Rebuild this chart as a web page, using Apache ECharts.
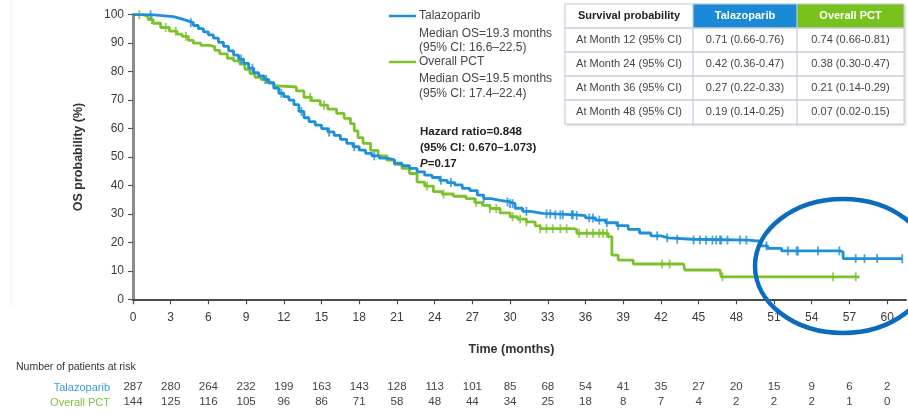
<!DOCTYPE html>
<html><head><meta charset="utf-8">
<script src="https://cdn.jsdelivr.net/npm/echarts@6/dist/echarts.min.js"></script>
<style>html,body{margin:0;padding:0;background:#fff}#c{width:908px;height:414px}</style>
</head><body><div id="c"></div>
<script>
// ---------- DATA ----------
const tickMonths = [0,3,6,9,12,15,18,21,24,27,30,33,36,39,42,45,48,51,54,57,60];
const talaRisk = [287,280,264,232,199,163,143,128,113,101,85,68,54,41,35,27,20,15,9,6,2];
const pctRisk  = [144,125,116,105,96,86,71,58,48,44,34,25,18,8,7,4,2,2,2,1,0];

// Kaplan-Meier step points [month, OS %]
const talaSteps = [[0,100],[1.0,100],[1.5,99.6],[2.5,99.3],[3.2,98.6],[3.8,97.9],[4.3,97.2],[4.8,96.2],[5.2,95.1],[5.6,94],[6.0,92.9],[6.4,91.8],[6.8,90.3],[7.2,88.9],[7.6,87.3],[8.0,85.8],[8.4,84.4],[8.8,82.9],[9.2,81.2],[9.6,79.6],[10.0,78.5],[10.4,77.3],[10.8,76.0],[11.2,74.2],[11.6,72.4],[12.0,71.2],[12.4,70.0],[12.8,68.4],[13.2,66.0],[13.6,63.8],[14.0,62.4],[14.5,61.2],[15.0,60.0],[15.5,58.8],[16.0,57.6],[16.5,56.2],[17.0,54.8],[17.5,53.6],[18.0,52.4],[18.5,51.3],[19.0,50.4],[19.6,49.6],[20.2,49.0],[20.8,47.8],[21.4,47.0],[22.0,46.0],[22.6,44.8],[23.2,43.6],[23.8,42.8],[24.4,41.8],[25.0,41.0],[25.6,40.2],[26.2,39.0],[26.8,38.2],[27.4,36.6],[27.9,35.4],[28.5,34.8],[29.2,34.2],[30.0,33.6],[30.4,32.0],[31.0,30.9],[31.6,30.2],[32.6,30.0],[33.6,29.7],[35.2,29.4],[36.0,28.6],[36.8,27.8],[37.6,26.9],[38.5,25.9],[39.4,24.6],[40.3,23.3],[41.2,22.3],[42.0,21.6],[42.6,21.1],[44.5,20.8],[49.0,20.4],[49.9,18.8],[50.5,17.9],[51.6,17.0],[56.3,16.6],[56.5,14.3],[61.2,14.3]];
const pctSteps = [[0,100],[0.8,99.4],[1.2,98.3],[1.6,97.0],[2.2,95.5],[2.9,94.2],[3.5,93.2],[3.9,92.4],[4.4,91.0],[4.8,90.0],[5.4,89.2],[6.1,88.8],[6.5,87.5],[6.9,86.2],[7.5,84.7],[8.0,83.8],[8.5,82.6],[8.9,80.8],[9.3,79.3],[9.7,78.0],[10.2,77.2],[10.7,76.2],[11.2,75.0],[11.5,74.6],[13.0,73.2],[13.6,71.0],[14.2,69.8],[14.9,68.2],[15.5,66.8],[16.2,65.3],[16.8,63.6],[17.3,61.7],[17.6,59.2],[17.9,56.8],[18.3,54.8],[18.9,52.3],[19.5,50.4],[20.2,48.9],[20.8,47.4],[21.4,46.0],[22.0,44.2],[22.6,41.2],[23.2,39.8],[23.9,37.8],[24.6,37.0],[25.5,36.2],[26.5,35.4],[27.2,34.0],[27.8,33.0],[28.4,31.9],[29.2,30.4],[30.0,29.0],[30.6,28.2],[31.3,27.2],[32.0,25.8],[32.4,24.8],[35.1,24.5],[35.3,23.2],[37.8,22.0],[38.1,15.5],[38.6,13.8],[39.8,12.4],[43.8,12.4],[43.9,10.3],[46.7,10.3],[46.8,7.9],[57.8,7.9]];

// censoring times (months)
const talaCensor = [1.4,4.6,8.6,9.5,10.6,11.8,13.4,15.6,17.6,19.2,24.5,25.3,27.9,29.8,30.0,30.2,31.3,32.9,33.2,33.6,34.0,34.2,34.9,35.0,35.3,36.3,36.6,37.1,37.7,38.6,41.7,42.5,43.3,44.6,45.1,45.6,46.1,46.4,46.7,46.8,47.3,48.3,48.8,50.4,52.1,52.8,52.9,54.5,56.2,57.5,58.2,59.2,61.2];
const pctCensor = [0.5,1.5,2.6,3.4,4.2,10.5,14.1,15.2,23.4,24.7,27.3,28.4,28.9,30.2,30.8,31.3,32.4,32.9,33.4,34.0,34.5,35.5,36.1,36.6,37.1,37.4,37.7,42.1,42.7,46.9,55.7,57.5];

// ---------- CHART ----------
const BLUE = '#1f8fda', GREEN = '#7cc22a';
function valueAt(steps, t){ let v = steps[0][1]; for (const s of steps){ if (s[0] <= t) v = s[1]; else break; } return v; }
const FONT = '"Liberation Sans", Arial, sans-serif';

const chart = echarts.init(document.getElementById('c'), null, {renderer:'canvas'});

function riskAxis(vals, offset){
  return {type:'value', min:0, max:61.5, position:'bottom', offset:offset,
    axisLine:{show:false}, axisTick:{show:false}, splitLine:{show:false},
    axisLabel:{customValues:tickMonths, margin:0, fontSize:11.5, color:'#444', fontFamily:FONT,
      formatter:v=>{const i=tickMonths.indexOf(v); return i>=0? String(vals[i]) : '';}}};
}

const tx = (x,y,text,opt={}) => ({type:'text', x, y, style:Object.assign({text, font:'12px '+FONT, fill:'#474747', textVerticalAlign:'middle'}, opt)});

// table geometry
const tcols = [565, 693, 797, 904];
const trows = [4, 28, 52, 76, 100, 124];
const tbl = [
  ['Survival probability','Talazoparib','Overall PCT'],
  ['At Month 12 (95% CI)','0.71 (0.66-0.76)','0.74 (0.66-0.81)'],
  ['At Month 24 (95% CI)','0.42 (0.36-0.47)','0.38 (0.30-0.47)'],
  ['At Month 36 (95% CI)','0.27 (0.22-0.33)','0.21 (0.14-0.29)'],
  ['At Month 48 (95% CI)','0.19 (0.14-0.25)','0.07 (0.02-0.15)']
];
const tableEls = [];
tableEls.push({type:'rect', shape:{x:tcols[0],y:trows[0],width:tcols[3]-tcols[0],height:trows[5]-trows[0]}, style:{fill:'#fff', shadowBlur:3, shadowColor:'rgba(0,0,0,0.25)', shadowOffsetX:1, shadowOffsetY:1}});
tableEls.push({type:'rect', shape:{x:tcols[1],y:trows[0],width:tcols[2]-tcols[1],height:trows[1]-trows[0]}, style:{fill:'#1b8ad6'}});
tableEls.push({type:'rect', shape:{x:tcols[2],y:trows[0],width:tcols[3]-tcols[2],height:trows[1]-trows[0]}, style:{fill:'#77c21c'}});
for (let r=0;r<tbl.length;r++){
  for (let c=0;c<3;c++){
    const cx=(tcols[c]+tcols[c+1])/2, cy=(trows[r]+trows[r+1])/2;
    const head = r===0;
    tableEls.push({type:'text', x:cx, y:cy, style:{text:tbl[r][c], textAlign:'center', textVerticalAlign:'middle',
      font:(head?'bold ':'')+'11px '+FONT, fill: head ? (c===0?'#222':'#fff') : '#444'}});
  }
}
for (let i=1;i<trows.length-1;i++) tableEls.push({type:'line', shape:{x1:tcols[0],y1:trows[i],x2:tcols[3],y2:trows[i]}, style:{stroke:'#c5ccd9', lineWidth:1.5}});
for (let i=1;i<tcols.length-1;i++) tableEls.push({type:'line', shape:{x1:tcols[i],y1:trows[0],x2:tcols[i],y2:trows[5]}, style:{stroke:'#c5ccd9', lineWidth:1.2}});
tableEls.push({type:'rect', shape:{x:tcols[0],y:trows[0],width:tcols[3]-tcols[0],height:trows[5]-trows[0]}, style:{fill:'none', stroke:'#c5ccd9', lineWidth:1}});

const option = {
  backgroundColor:'#fff',
  animation:false,
  grid:{left:133, right:2, top:14.7, bottom:114.7, containLabel:false},
  xAxis:[{type:'value', min:0, max:61.5, name:'Time (months)', nameLocation:'middle', nameGap:44,
    nameTextStyle:{fontSize:12.5, fontWeight:'bold', color:'#333', fontFamily:FONT, padding:[0,16,0,0]},
    axisLine:{lineStyle:{color:'#4a4a4a', width:2}},
    axisTick:{customValues:tickMonths, length:5, lineStyle:{color:'#4a4a4a', width:1.2}},
    axisLabel:{customValues:tickMonths, margin:12, fontSize:12, color:'#3a3a3a', fontFamily:FONT},
    splitLine:{show:false}},
    riskAxis(talaRisk, 82), riskAxis(pctRisk, 97)],
  yAxis:{type:'value', min:0, max:100, interval:10, name:'OS probability (%)', nameLocation:'middle', nameGap:48,
    nameTextStyle:{fontSize:12.5, fontWeight:'bold', color:'#333', fontFamily:FONT},
    axisLine:{show:true, lineStyle:{color:'#8c8c8c', width:3}},
    axisTick:{show:true, length:5, lineStyle:{color:'#555', width:1.2}},
    axisLabel:{margin:9, fontSize:12, color:'#3a3a3a', fontFamily:FONT},
    splitLine:{show:false}},
  series:[
    {type:'line', step:'end', data:pctSteps, showSymbol:false, lineStyle:{color:GREEN, width:2.8}, z:3},
    {type:'line', step:'end', data:talaSteps, showSymbol:false, lineStyle:{color:BLUE, width:2.8}, z:4},
    {type:'scatter', data:pctCensor.map(t=>[t, valueAt(pctSteps,t)]), symbol:'rect', symbolSize:[1.8,9], itemStyle:{color:GREEN}, z:3},
    {type:'scatter', data:talaCensor.map(t=>[t, valueAt(talaSteps,t)]), symbol:'rect', symbolSize:[1.8,9], itemStyle:{color:BLUE}, z:4}
  ],
  graphic:[
    {type:'line', shape:{x1:11,y1:0,x2:11,y2:306}, style:{stroke:'#eeeeee', lineWidth:1}},
    // legend
    {type:'line', shape:{x1:389,y1:16,x2:416,y2:16}, style:{stroke:BLUE, lineWidth:2.5}},
    tx(419,16,'Talazoparib'),
    tx(419,34,'Median OS=19.3 months'),
    tx(419,48,'(95% CI: 16.6–22.5)'),
    {type:'line', shape:{x1:389,y1:62,x2:416,y2:62}, style:{stroke:GREEN, lineWidth:2.5}},
    tx(419,62,'Overall PCT'),
    tx(419,79,'Median OS=19.5 months'),
    tx(419,94,'(95% CI: 17.4–22.4)'),
    tx(420,132,'Hazard ratio=0.848',{font:'bold 11.5px '+FONT, fill:'#222'}),
    tx(420,148,'(95% CI: 0.670–1.073)',{font:'bold 11.5px '+FONT, fill:'#222'}),
    {type:'text', x:420, y:164, style:{rich:{p:{font:'italic bold 11.5px '+FONT, fill:'#222'}, n:{font:'bold 11.5px '+FONT, fill:'#222'}}, text:'{p|P}{n|=0.17}', textVerticalAlign:'middle'}},
    ...tableEls,
    // risk table labels
    tx(16,367,'Number of patients at risk',{font:'10.5px '+FONT, fill:'#333'}),
    tx(110,388,'Talazoparib',{font:'11px '+FONT, fill:'#3b9be0', textAlign:'right'}),
    tx(110,403,'Overall PCT',{font:'11px '+FONT, fill:'#82c240', textAlign:'right'}),
    // highlight ellipse
    {type:'ellipse', shape:{cx:843, cy:266, rx:88, ry:67}, style:{fill:'none', stroke:'#0b6cbd', lineWidth:4.5}, z:100}
  ]
};
chart.setOption(option);
</script>
</body></html>
